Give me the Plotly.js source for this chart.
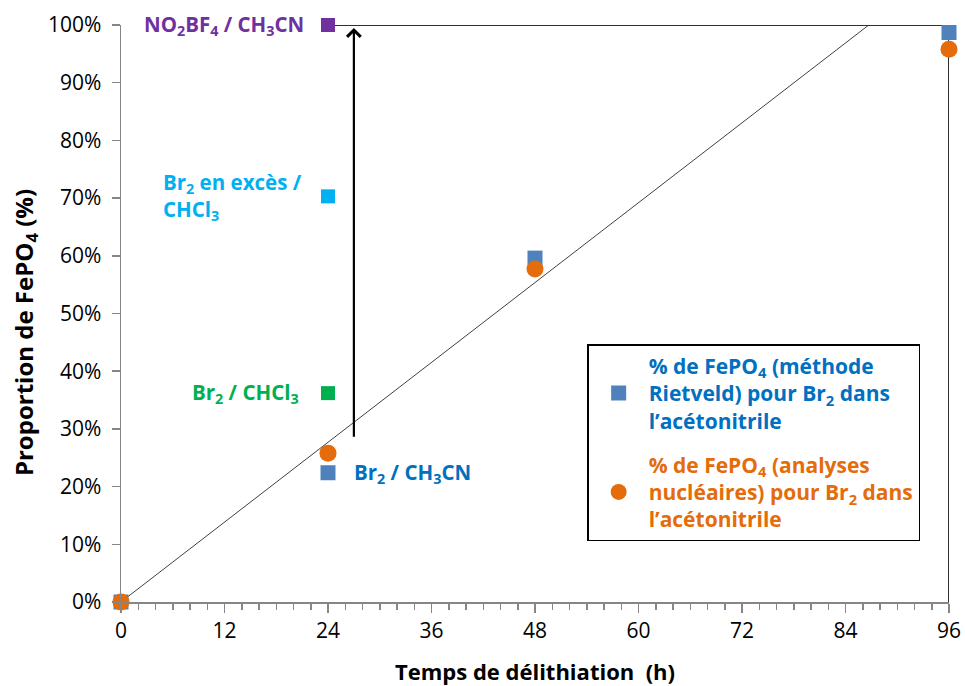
<!DOCTYPE html>
<html>
<head>
<meta charset="utf-8">
<script src="https://cdn.plot.ly/plotly-3.0.1.min.js"></script>
<style>html,body{margin:0;padding:0;background:#fff;}#chart{width:965px;height:686px;}</style>
</head>
<body>
<div id="chart"></div>
<script>
// Data (hours, fraction of FePO4)
const rietveldHours = [0, 24, 48, 96];
const rietveldValues = [0.0, 0.224, 0.596, 0.987];
const nuclearHours = [0, 24, 48, 96];
const nuclearValues = [0.0, 0.258, 0.577, 0.958];
const otherHours = [24, 24, 24];
const otherValues = [1.0, 0.703, 0.362];
const otherNames = ["NO2BF4 / CH3CN", "Br2 en excès / CHCl3", "Br2 / CHCl3"];
const fitLineHours = [0, 86.7];
const fitLineValues = [0, 1.0];
const frameHours = [24, 96, 96];
const frameValues = [1.0, 1.0, 0.0];
const arrowHours = [27, 27];
const arrowValues = [0.284, 0.995];
const legendNames = [
  '<span style="color:#0070C0">% de FePO<sub>4</sub> (méthode<br>Rietveld) pour Br<sub>2</sub> dans<br>l’acétonitrile</span>',
  '<span style="color:#E46C0A">% de FePO<sub>4</sub> (analyses<br>nucléaires) pour Br<sub>2</sub> dans<br>l’acétonitrile</span>'
];
const labelTexts = [
  "NO<sub>2</sub>BF<sub>4</sub> / CH<sub>3</sub>CN",
  "Br<sub>2</sub> en excès /<br>CHCl<sub>3</sub>",
  "Br<sub>2</sub> / CHCl<sub>3</sub>",
  "Br<sub>2</sub> / CH<sub>3</sub>CN"
];
const xTitle = "Temps de délithiation  (h)";
const yTitle = "Proportion de FePO<sub>4</sub> (%)";

const FONT = "'Open Sans', sans-serif";

const traces = [
  {x: fitLineHours, y: fitLineValues, mode: 'lines', line: {color: '#404040', width: 1}, showlegend: false, hoverinfo: 'skip', cliponaxis: false},
  {x: frameHours, y: frameValues, mode: 'lines', line: {color: '#303030', width: 2}, showlegend: false, hoverinfo: 'skip', cliponaxis: false},
  {x: [otherHours[0]], y: [otherValues[0]], name: otherNames[0], mode: 'markers', marker: {symbol: 'square', size: 14, color: '#7030A0'}, showlegend: false, cliponaxis: false},
  {x: [otherHours[1]], y: [otherValues[1]], name: otherNames[1], mode: 'markers', marker: {symbol: 'square', size: 14, color: '#00B0F0'}, showlegend: false, cliponaxis: false},
  {x: [otherHours[2]], y: [otherValues[2]], name: otherNames[2], mode: 'markers', marker: {symbol: 'square', size: 14, color: '#00B050'}, showlegend: false, cliponaxis: false},
  {x: rietveldHours, y: rietveldValues, name: legendNames[0], legendgroup: 'a', mode: 'markers', marker: {symbol: 'square', size: 15, color: '#4F81BD'}, cliponaxis: false},
  {x: nuclearHours, y: nuclearValues, name: legendNames[1], legendgroup: 'b', mode: 'markers', marker: {symbol: 'circle', size: 17, color: '#E46C0A'}, cliponaxis: false}
];

const labelFont = (c) => ({family: FONT, size: 20.5, color: c, weight: 'bold'});

const layout = {
  width: 965, height: 686,
  margin: {l: 121, r: 16, t: 25, b: 84},
  paper_bgcolor: '#fff', plot_bgcolor: '#fff',
  font: {family: FONT, size: 20, color: '#000'},
  showlegend: true,
  legend: {
    x: 0.563, y: 0.447, xanchor: 'left', yanchor: 'top',
    bgcolor: '#fff', bordercolor: '#000', borderwidth: 1.5,
    font: {family: FONT, size: 21, weight: 'bold'},
    traceorder: 'grouped', tracegroupgap: 14, itemwidth: 50
  },
  xaxis: {
    range: [0, 96], tick0: 0, dtick: 12, ticks: 'outside', ticklen: 9, tickcolor: '#868686', tickwidth: 1.5,
    minor: {dtick: 2, ticks: 'outside', ticklen: 6, tickcolor: '#868686', tickwidth: 1.5},
    showline: true, linecolor: '#868686', linewidth: 1.5, showgrid: false, zeroline: false,
    tickfont: {family: FONT, size: 21, color: '#000'},
    title: {text: xTitle, font: {family: FONT, size: 22, color: '#000', weight: 'bold'}, standoff: 24}
  },
  yaxis: {
    range: [0, 1], tick0: 0, dtick: 0.1, tickformat: '.0%', ticks: 'outside', ticklen: 8, tickcolor: '#868686', tickwidth: 1.5,
    ticklabelstandoff: 6,
    showline: true, linecolor: '#868686', linewidth: 1.5, showgrid: false, zeroline: false,
    tickfont: {family: FONT, size: 21, color: '#000'}
  },
  annotations: [
    {x: arrowHours[1], y: arrowValues[1], ax: arrowHours[0], ay: arrowValues[0], xref: 'x', yref: 'y', axref: 'x', ayref: 'y',
     showarrow: true, arrowhead: 4, arrowsize: 1.2, arrowwidth: 2.2, arrowcolor: '#000', text: ''},
    {x: 21.5, y: otherValues[0], xref: 'x', yref: 'y', text: labelTexts[0], showarrow: false, xanchor: 'right', yanchor: 'middle', font: labelFont('#7030A0')},
    {x: 4.6, y: otherValues[1], xref: 'x', yref: 'y', text: labelTexts[1], showarrow: false, xanchor: 'left', yanchor: 'middle', align: 'left', font: labelFont('#00B0F0')},
    {x: 20.9, y: otherValues[2], xref: 'x', yref: 'y', text: labelTexts[2], showarrow: false, xanchor: 'right', yanchor: 'middle', font: labelFont('#00B050')},
    {x: 26.8, y: rietveldValues[1], xref: 'x', yref: 'y', text: labelTexts[3], showarrow: false, xanchor: 'left', yanchor: 'middle', font: labelFont('#0070C0')},
    {x: 0, xref: 'paper', xshift: -96, y: 0.466, yref: 'paper', text: yTitle, textangle: -90, showarrow: false,
     xanchor: 'center', yanchor: 'middle', font: {family: FONT, size: 24, color: '#000', weight: 'bold'}}
  ]
};

Plotly.newPlot('chart', traces, layout, {displayModeBar: false, staticPlot: true});
</script>
</body>
</html>
